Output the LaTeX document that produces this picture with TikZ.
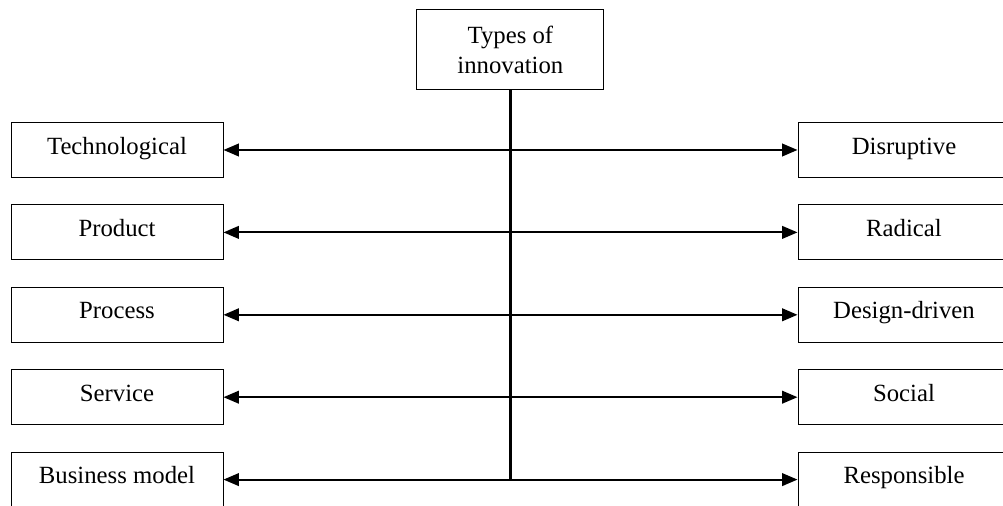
\documentclass[tikz,border=0pt]{standalone}
\usepackage{fontspec}
\setmainfont{Liberation Serif}
\usetikzlibrary{arrows.meta}

\begin{document}
\begin{tikzpicture}[
    box/.style={rectangle,draw,line width=0.7pt,minimum width=5.3cm,minimum height=1.375cm,text height=1.5ex,text depth=.25ex,font=\fontsize{17.6}{21.5}\selectfont},
    link/.style={arrows={Triangle[length=11pt,width=9pt]-Triangle[length=11pt,width=9pt]},line width=1.4pt}
  ]
        \useasboundingbox (0,0) rectangle (25.075,12.65);
        \draw (12.76,11.4) node[box,minimum width=4.675cm,minimum height=2cm,align=center,text height=,text depth=] (types) {Types of\\innovation};
        \draw (2.925,8.9) node[box] (tech) {Technological};
        \draw (2.925,6.84) node[box] (prod) {Product};
        \draw (2.925,4.78) node[box] (proc) {Process};
        \draw (2.925,2.72) node[box] (serv) {Service};
        \draw (2.925,0.66) node[box] (bus) {Business model};
        \draw (22.6,8.9) node[box] (disr) {Disruptive};
        \draw (22.6,6.84) node[box] (rad) {Radical};
        \draw (22.6,4.78) node[box] (des) {Design-driven};
        \draw (22.6,2.72) node[box] (soc) {Social};
        \draw (22.6,0.66) node[box] (resp) {Responsible};
        \coordinate (foot) at (types.south |- bus.east);
        \draw[line width=2.1pt] (types.south)--(foot);
        \draw[link] (tech)--(disr);
        \draw[link] (prod)--(rad);
        \draw[link] (proc)--(des);
        \draw[link] (serv)--(soc);
        \draw[link] (bus)--(resp);
    \end{tikzpicture}
\end{document}
